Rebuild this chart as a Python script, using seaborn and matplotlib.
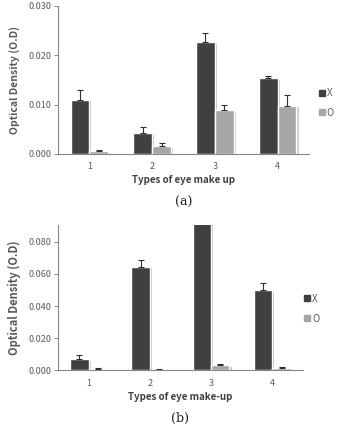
import numpy as np
import pandas as pd
import seaborn as sns
import matplotlib
matplotlib.use("Agg")
import matplotlib.pyplot as plt
from matplotlib import patheffects as pe

types = ["1", "2", "3", "4"]
groups = ["X", "O"]

# panel (a)
a_x = [0.0110, 0.0043, 0.0226, 0.0153]
a_x_err = [0.0020, 0.0011, 0.0020, 0.0004]
a_o = [0.0005, 0.0016, 0.0089, 0.0098]
a_o_err = [0.0003, 0.0005, 0.0011, 0.0022]

# panel (b)
b_x = [0.0070, 0.0645, 0.0950, 0.0497]
b_x_err = [0.0022, 0.0040, 0.0030, 0.0045]
b_o = [0.0007, 0.0003, 0.0030, 0.0015]
b_o_err = [0.0007, 0.0002, 0.0010, 0.0005]

sns.set_style("white")
plt.rcParams["font.family"] = ["Noto Sans CJK KR", "DejaVu Sans"]
TXT = "#595959"
pal = {"X": "#404040", "O": "#a6a6a6"}

fig = plt.figure(figsize=(3.37, 4.25), dpi=100)


def panel(rect, xv, xe, ov, oe, ymax, yticks, xlabel, tag, legpos, ylsize, ylpad):
    ax = fig.add_axes(rect)
    df = pd.DataFrame({
        "type": types * 2,
        "group": ["X"] * 4 + ["O"] * 4,
        "od": xv + ov,
    })
    sns.barplot(data=df, x="type", y="od", hue="group", palette=pal,
                width=0.6, errorbar=None, ax=ax, legend=False, saturation=1)
    errs = xe + oe
    for p, e in zip(ax.patches, errs):
        p.set_path_effects([pe.SimplePatchShadow(offset=(1.5, -1.2), alpha=0.25), pe.Normal()])
        ax.errorbar(p.get_x() + p.get_width() / 2, p.get_height(), yerr=[[0], [e]],
                    fmt="none", ecolor="#303030", elinewidth=0.8, capsize=2.5, capthick=0.8)
    ax.set_ylim(0, ymax)
    ax.set_xlim(-0.5, 3.5)
    ax.set_yticks(yticks)
    ax.set_yticklabels([f"{t:.3f}" for t in yticks], color=TXT, fontsize=6.5)
    ax.set_xticklabels(types, color=TXT, fontsize=6.5)
    ax.set_xticks([-0.5, 0.5, 1.5, 2.5, 3.5], minor=True)
    ax.tick_params(axis="x", which="major", length=0, pad=6)
    ax.tick_params(axis="x", which="minor", length=3, color="#868686", width=0.7, direction="out")
    ax.tick_params(axis="y", length=3, color="#868686", width=0.7, left=True, pad=2)
    sns.despine(ax=ax)
    for s in ["left", "bottom"]:
        ax.spines[s].set_color("#868686")
        ax.spines[s].set_linewidth(0.8)
    ax.set_ylabel("Optical Density (O.D)", fontsize=ylsize, fontweight="bold", color=TXT,
                  labelpad=ylpad)
    ax.set_xlabel(xlabel, fontsize=7, fontweight="bold", color="#404040", labelpad=3)
    ax.text(0.5, -0.33, tag, transform=ax.transAxes, ha="center", va="center",
            fontsize=9, family="DejaVu Serif", color="#202020")
    handles = [plt.Line2D([], [], marker="s", ls="", color=pal[g], markersize=4.5) for g in groups]
    ax.legend(handles, groups, loc="center left", bbox_to_anchor=legpos, frameon=False,
              fontsize=7, handlelength=0.6, handletextpad=0.2, labelspacing=1.0,
              labelcolor=TXT)
    return ax


panel([0.172, 0.638, 0.745, 0.348], a_x, a_x_err, a_o, a_o_err, 0.030,
      [0.0, 0.010, 0.020, 0.030], "Types of eye make up", "(a)", (1.005, 0.345), 7.5, 6)
panel([0.172, 0.129, 0.727, 0.341], b_x, b_x_err, b_o, b_o_err, 0.0904,
      [0.0, 0.020, 0.040, 0.060, 0.080], "Types of eye make-up", "(b)", (0.97, 0.424), 8, 5)

fig.savefig("out.png", dpi=100)
